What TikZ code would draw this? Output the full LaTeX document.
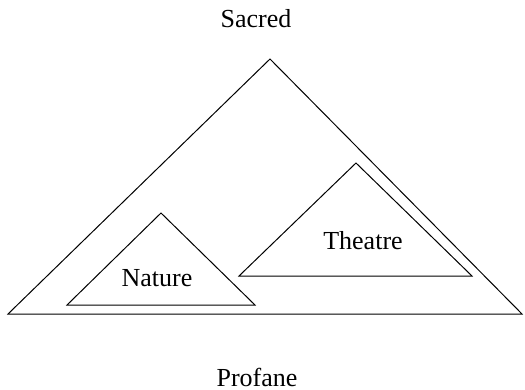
\documentclass[tikz,border=0pt]{standalone}
\usepackage{fontspec}
\setmainfont{Liberation Serif}
\begin{document}
\begin{tikzpicture}[x=0.5pt,y=-0.5pt]
		\tikzset{tri/.style = {draw, line width=0.5pt, line join=miter}}
		\tikzset{word/.style = {font=\fontsize{13}{15}\selectfont, inner sep=0pt}}

		\useasboundingbox (0,0) rectangle (525,390);

		\coordinate (S_1) at (270,59);
		\coordinate (S_2) at (8,314);
		\coordinate (S_3) at (522,314);

		\coordinate (T_1) at (356,163);
		\coordinate (T_2) at (239,276);
		\coordinate (T_3) at (472,276);

		\coordinate (N_1) at (161,213);
		\coordinate (N_2) at (67,305);
		\coordinate (N_3) at (255,305);

		\draw[tri] (S_1) -- (S_2) -- (S_3) -- cycle;
		\draw[tri] (T_1) -- (T_2) -- (T_3) -- cycle;
		\draw[tri] (N_1) -- (N_2) -- (N_3) -- cycle;

		\node[word] (sacred) at (256,19) {Sacred};
		\node[word] (profane) at (257,377) {Profane};
		\node[word] (theatre) at (363,241) {Theatre};
		\node[word] (nature) at (157,278) {Nature};

	\end{tikzpicture}
\end{document}
